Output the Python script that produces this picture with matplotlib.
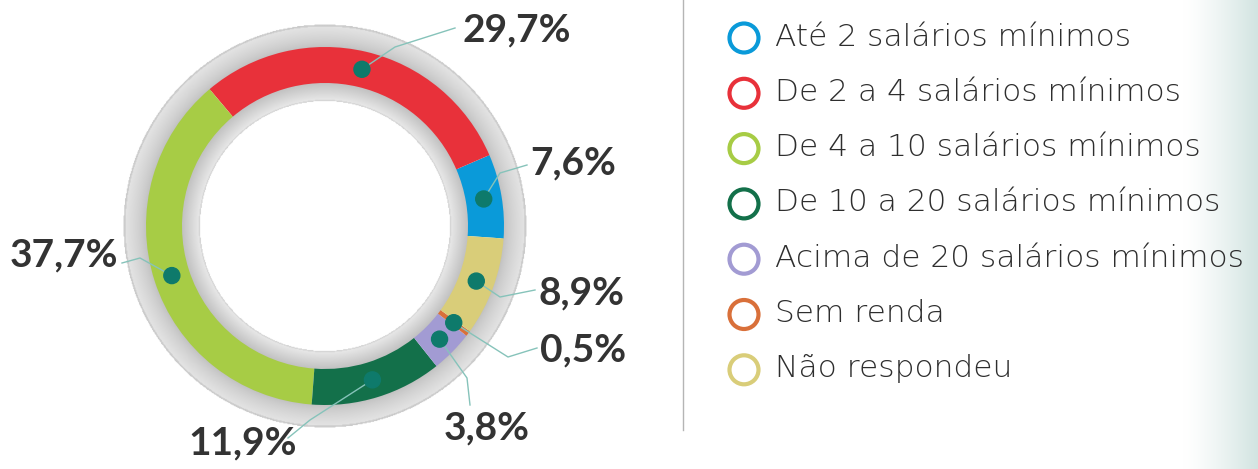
import numpy as np
import matplotlib.pyplot as plt
from matplotlib.patches import Circle
from matplotlib.colors import to_rgb

categories = ["Até 2 salários mínimos", "De 2 a 4 salários mínimos",
              "De 4 a 10 salários mínimos", "De 10 a 20 salários mínimos",
              "Acima de 20 salários mínimos", "Sem renda", "Não respondeu"]
values = [7.6, 29.7, 37.7, 11.9, 3.8, 0.5, 8.9]
pct_labels = ["7,6%", "29,7%", "37,7%", "11,9%", "3,8%", "0,5%", "8,9%"]
colors = ["#0a9ad9", "#e8313a", "#a7cc45", "#13704a", "#a29bd3", "#d9703a", "#d9cd79"]

W, H = 1258, 469
cx, cy = 325, H - 226
r_out, r_ring = 179, 36

fig = plt.figure(figsize=(W / 100, H / 100), dpi=100)
ax = fig.add_axes([0, 0, 1, 1])

# grey tube behind the ring
n = 500
xs = np.linspace(cx - 205, cx + 205, n)
ys = np.linspace(cy - 205, cy + 205, n)
X, Y = np.meshgrid(xs, ys)
R = np.hypot(X - cx, Y - cy)
img = np.ones((n, n, 4))
g = np.full(R.shape, 1.0)
outer = (R >= r_out - 2) & (R <= 202)
t = np.clip((R - r_out) / 23, 0, 1)
g[outer] = (0.75 + 0.15 * t ** 0.7)[outer]
g[(R > 200) & (R <= 202)] = 0.80
inner = (R >= 125) & (R <= r_out - r_ring + 2)
t2 = np.clip((r_out - r_ring - R) / 18, 0, 1)
g[inner] = (0.76 + 0.16 * t2)[inner]
g[(R >= 125) & (R < 126.5)] = 0.84
img[..., 0] = g
img[..., 1] = g
img[..., 2] = g
img[..., 3] = ((R >= 125) & (R <= 202)).astype(float)
ax.imshow(img, extent=[xs[0], xs[-1], ys[0], ys[-1]], origin="lower",
          interpolation="bilinear", zorder=1)

# teal fade on the right edge
gx = np.linspace(0, 1, 200)
fade = np.clip((gx - 0.05) / 0.95, 0, 1) ** 1.3
end = np.array(to_rgb("#d2e4e1"))
grad = np.ones((2, 200, 3)) * (1 - fade)[None, :, None] + end[None, None, :] * fade[None, :, None]
ax.imshow(grad, extent=[1180, W, 0, H], aspect="auto", zorder=0)

wedges, _ = ax.pie(values, colors=colors, startangle=-4, counterclock=True,
                   radius=r_out, center=(cx, cy),
                   wedgeprops=dict(width=r_ring, edgecolor="none"))
for w in wedges:
    w.set_zorder(2)

# label placement: text position, alignment, leader path end points (image px)
layout = [
    ((530, 163), "left", [(500, 173), (527, 165)]),
    ((463, 30), "left", [(395, 47), (455, 28)]),
    ((118, 255), "right", [(140, 258), (122, 263)]),
    ((243, 443), "center", [(310, 420), (288, 438)]),
    ((487, 428), "center", [(467, 378), (470, 405)]),
    ((540, 350), "left", [(508, 357), (537, 348)]),
    ((538, 293), "left", [(500, 297), (535, 290)]),
]

r_mid = r_out - r_ring / 2
for w, lab, (tpos, ha, path) in zip(wedges, pct_labels, layout):
    ang = np.deg2rad((w.theta1 + w.theta2) / 2)
    dx, dy = cx + r_mid * np.cos(ang), cy + r_mid * np.sin(ang)
    px = [dx] + [p[0] for p in path]
    py = [dy] + [H - p[1] for p in path]
    ax.plot(px, py, color="#86c3ba", lw=1, zorder=3)
    ax.add_patch(Circle((dx, dy), 8, color="#0e7a6b", zorder=4))
    ax.text(tpos[0], H - tpos[1], lab, ha=ha, va="center", fontsize=28,
            fontweight="bold", color="#333333", family=["Lato", "DejaVu Sans"], zorder=5)

# separator
ax.plot([683, 683], [H, H - 430], color="#b5b5b5", lw=1, zorder=3)

# legend
for i, (cat, col) in enumerate(zip(categories, colors)):
    yy = H - (38 + 55.3 * i)
    ax.add_patch(Circle((744, yy), 14.5, facecolor="none", edgecolor=col, lw=3, zorder=4))
    ax.text(775, yy + 1, cat, ha="left", va="center", fontsize=22.5, fontweight="light",
            color="#2e2e2e", family=["DejaVu Sans"], zorder=5)

ax.set_xlim(0, W)
ax.set_ylim(0, H)
ax.set_aspect("auto")
ax.axis("off")

fig.savefig("out.png", dpi=100)
